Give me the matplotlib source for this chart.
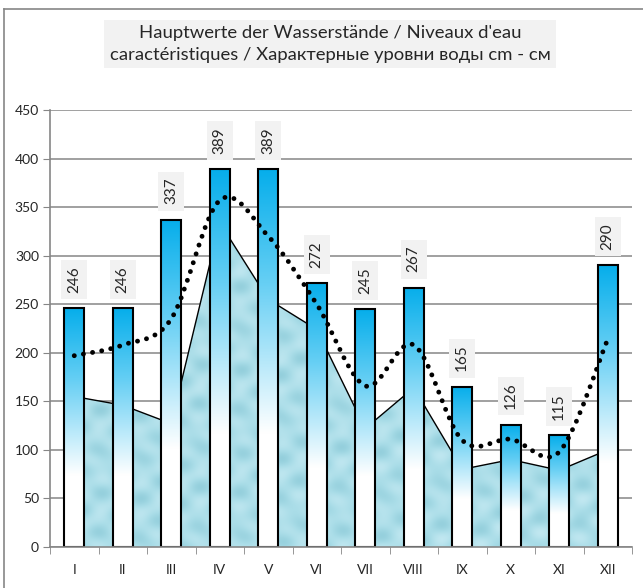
import numpy as np
import matplotlib
matplotlib.use("Agg")
import matplotlib.pyplot as plt
from matplotlib.path import Path
from matplotlib.patches import PathPatch, Rectangle
from matplotlib.colors import LinearSegmentedColormap

plt.rcParams['font.family'] = ['Lato', 'Open Sans', 'DejaVu Sans']

# data
months = ['I', 'II', 'III', 'IV', 'V', 'VI', 'VII', 'VIII', 'IX', 'X', 'XI', 'XII']
high_water = [246, 246, 337, 389, 389, 272, 245, 267, 165, 126, 115, 290]
mean_water = [197, 208, 235, 357, 320, 250, 166, 208, 110, 111, 98, 214]
low_water = [155, 146, 127, 334, 255, 224, 122, 164, 80, 90, 79, 100]

title = "Hauptwerte der Wasserstände / Niveaux d'eau\ncaractéristiques / Характерные уровни воды cm - см"

grey = '#868686'
bar_width = 0.41

fig = plt.figure(figsize=(6.43, 5.88), dpi=100)
ax = fig.add_axes([50 / 643, 41 / 588, 582 / 643, 437 / 588])

x = np.arange(len(months))

# textured "water" area (low water)
area = ax.fill_between(x, 0, low_water, facecolor='none', edgecolor='none', zorder=1)
xx, yy = np.meshgrid(np.linspace(0, 1, 400), np.linspace(0, 1, 300))
pattern = (np.sin(xx * 91) * np.cos(yy * 67 + xx * 13)
           + 0.6 * np.sin(yy * 113 - xx * 29) * np.sin(xx * 57 + yy * 19))
pattern = (pattern - pattern.min()) / (pattern.max() - pattern.min())
water = LinearSegmentedColormap.from_list('water', ['#94cfdc', '#aadde8', '#c2e8f1'])
tex = ax.imshow(pattern, cmap=water, extent=[-0.5, 11.5, 0, 450], aspect='auto',
                origin='lower', zorder=1, interpolation='bicubic')
tex.set_clip_path(area.get_paths()[0], transform=ax.transData)
ax.plot(x, low_water, color='black', linewidth=1.0, zorder=1.1)

# gradient bars (high water)
bar_cmap = LinearSegmentedColormap.from_list(
    'bar', [(0, '#ffffff'), (0.3, '#ffffff'), (0.7, '#66cff4'), (1, '#06aeeb')])
grad = np.linspace(0, 1, 256).reshape(-1, 1)
for xi, h in zip(x, high_water):
    ax.imshow(grad, cmap=bar_cmap, extent=[xi - bar_width / 2, xi + bar_width / 2, 0, h],
              aspect='auto', origin='lower', zorder=2)
    ax.add_patch(Rectangle((xi - bar_width / 2, 0), bar_width, h, facecolor='none',
                           edgecolor='black', linewidth=1.5, zorder=2.1))
    ax.annotate(str(h), (xi, h), xytext=(0, 11), textcoords='offset points',
                rotation=90, ha='center', va='bottom', fontsize=11, color='#262626',
                bbox=dict(boxstyle='square,pad=0.4', facecolor='#f2f2f2', edgecolor='none'),
                zorder=5)

# smoothed dotted line (mean water)
pts = np.column_stack([x, mean_water]).astype(float)
verts = [pts[0]]
codes = [Path.MOVETO]
n = len(pts)
for i in range(n - 1):
    p0 = pts[max(i - 1, 0)]
    p1 = pts[i]
    p2 = pts[i + 1]
    p3 = pts[min(i + 2, n - 1)]
    verts += [p1 + (p2 - p0) / 6, p2 - (p3 - p1) / 6, p2]
    codes += [Path.CURVE4] * 3
line = PathPatch(Path(verts, codes), facecolor='none', edgecolor='black',
                 linewidth=3.5, linestyle=(0, (0.01, 1.9)), capstyle='round', zorder=3)
ax.add_patch(line)

ax.set_xlim(-0.5, 11.5)
ax.set_ylim(0, 450)
ax.set_yticks(np.arange(0, 451, 50))
ax.set_xticks(x)
ax.set_xticklabels(months)
ax.set_xticks(np.arange(-0.5, 12, 1), minor=True)
ax.tick_params(axis='x', which='major', length=0, pad=12, labelsize=10, labelcolor='#262626')
ax.tick_params(axis='x', which='minor', length=5, color=grey, direction='out')
ax.tick_params(axis='y', length=5, color=grey, labelsize=10, labelcolor='#262626', pad=3)
ax.grid(axis='y', color='#999999', linewidth=1.3, zorder=0)
ax.set_axisbelow(True)
for s in ['top', 'right']:
    ax.spines[s].set_visible(False)
for s in ['left', 'bottom']:
    ax.spines[s].set_color(grey)
    ax.spines[s].set_linewidth(1.2)
ax.spines['bottom'].set_zorder(2.5)

# title box
fig.text(330 / 643, 1 - 44 / 588, title, ha='center', va='center', fontsize=13.3,
         color='#262626', linespacing=1.4,
         bbox=dict(boxstyle='square,pad=0.3', facecolor='#f2f2f2', edgecolor='none'))

# chart border
fig.add_artist(plt.Line2D([4 / 643, 4 / 643], [0, 1 - 9 / 588], color=grey, linewidth=1.2))
fig.add_artist(plt.Line2D([4 / 643, 1], [1 - 9 / 588, 1 - 9 / 588], color=grey, linewidth=1.2))

fig.savefig('out.png', dpi=100)
